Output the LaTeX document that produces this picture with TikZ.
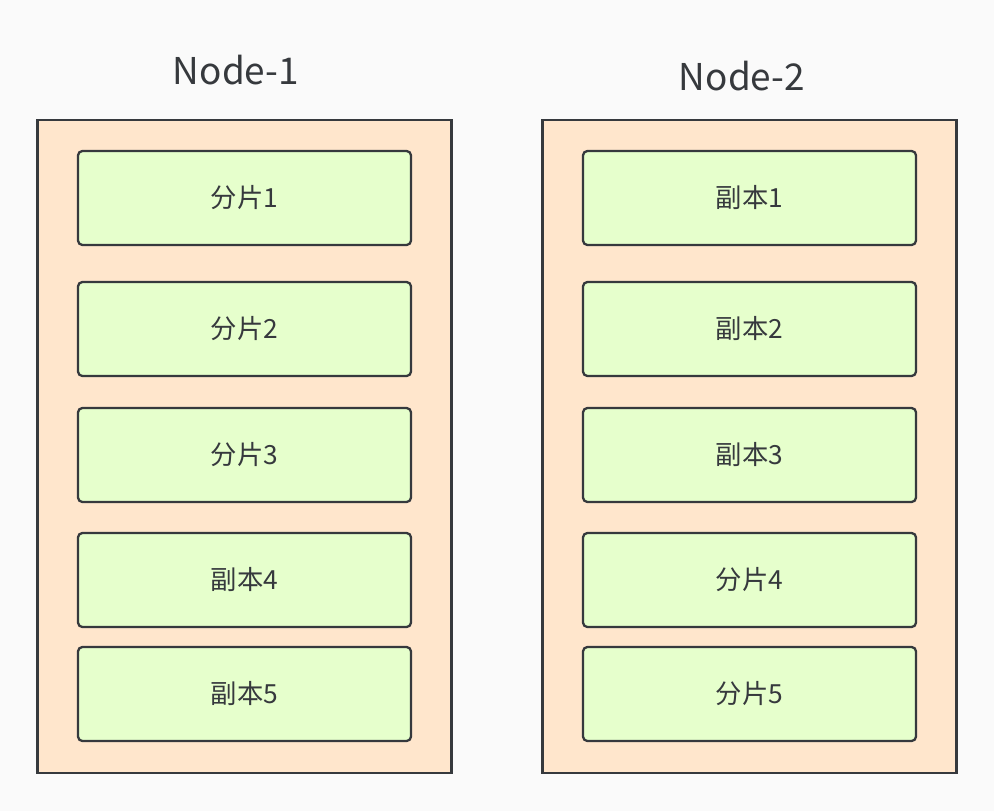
\documentclass[tikz,border=0pt]{standalone}
\usepackage{fontspec}
\setmainfont{Noto Sans CJK SC}
\usetikzlibrary{positioning}
\definecolor{bgcol}{HTML}{FAFAFA}
\definecolor{hostfill}{HTML}{FFE6CC}
\definecolor{shardfill}{HTML}{E6FFCC}
\definecolor{edgecol}{HTML}{36393D}
\tikzset{
  host/.style = {draw = edgecol, fill = hostfill, line width = 1.3pt, minimum width = 414*0.02cm, minimum height = 653*0.02cm, inner sep = 0pt},
  shard/.style = {draw = edgecol, fill = shardfill, line width = 1.3pt, rounded corners = 2.5pt, minimum width = 333*0.02cm, minimum height = 94*0.02cm, inner sep = 0pt, text = edgecol, font = \fontsize{15}{17}\selectfont},
  title/.style = {text = edgecol, font = \fontsize{21}{25}\selectfont}
}
\begin{document}
\begin{tikzpicture}[x = 0.02cm, y = -0.02cm]
        \fill [bgcol] (0, 0) rectangle (994, 811);
        \useasboundingbox (0, 0) rectangle (994, 811);
        \node [host] (host1) at (244.5, 446.5) {};
        \node [host] (host2) at (749.5, 446.5) {};
        \node [title] (label1) at (236, 70) {Node-1};
        \node [title] (label2) at (742, 76) {Node-2};
        \foreach \y/\left/\right [count = \i] in {198/分片1/副本1, 329/分片2/副本2, 455/分片3/副本3, 580/副本4/分片4, 694/副本5/分片5} {
            \node [shard] (left\i) at (244.5, \y) {\left};
            \node [shard] (right\i) at (749.5, \y) {\right};
        }
    \end{tikzpicture}
\end{document}
